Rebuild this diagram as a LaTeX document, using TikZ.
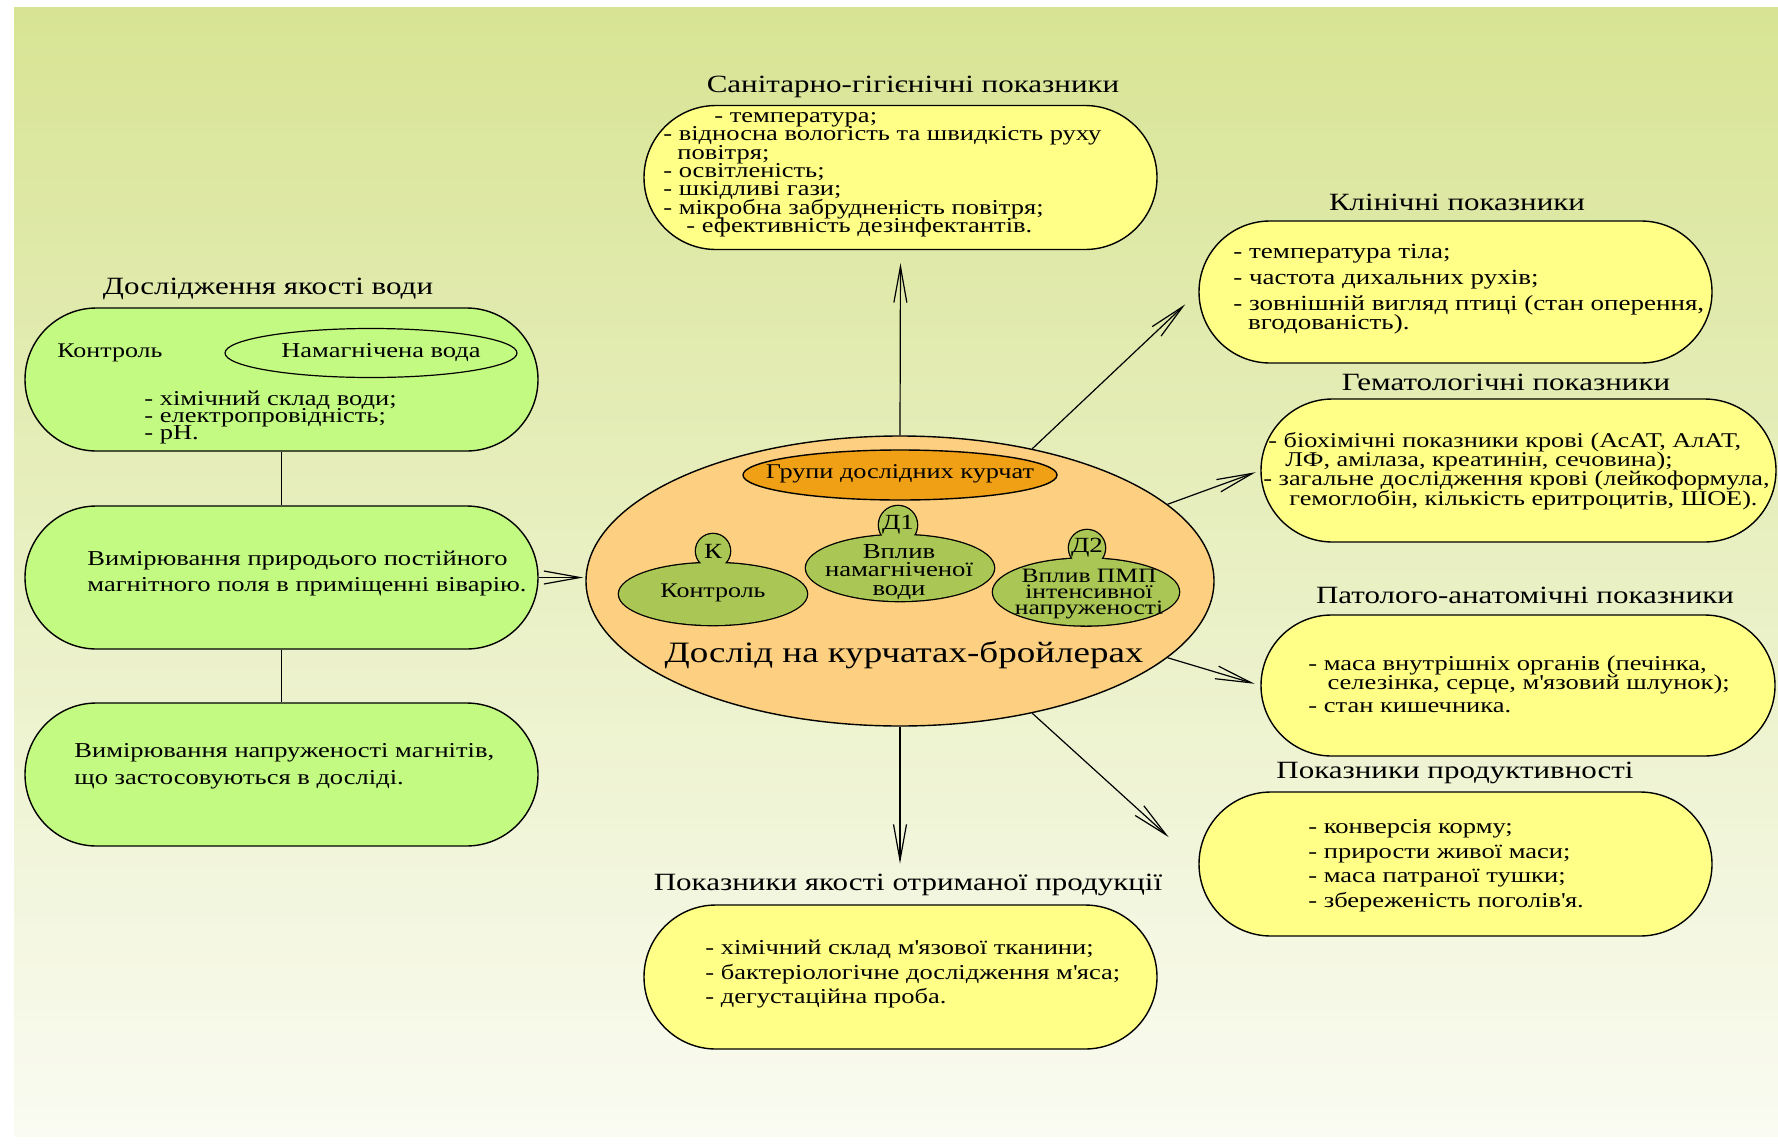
\documentclass[tikz,border=0pt]{standalone}
\usepackage{fontspec}
\setmainfont{Liberation Serif}[FakeStretch=1.25]
\usetikzlibrary{shapes.geometric,shapes.misc,arrows.meta}
\definecolor{yel}{RGB}{255,255,136}
\definecolor{grn}{RGB}{195,250,130}
\definecolor{peach}{RGB}{252,208,128}
\definecolor{org}{RGB}{240,160,20}
\definecolor{olive}{RGB}{170,198,84}
\definecolor{bgtop}{RGB}{216,228,148}
\definecolor{bgmid}{RGB}{237,242,202}
\definecolor{bgbot}{RGB}{250,251,242}
\lineskiplimit=-30pt
\begin{document}
\begin{tikzpicture}[x=0.5pt,y=-0.5pt,
  stad/.style={rounded rectangle, draw, line width=0.7pt, fill=yel, minimum width=256.5pt, minimum height=72pt, inner sep=0pt},
  gstad/.style={stad, fill=grn},
  head/.style={inner sep=0pt, font=\fontsize{12.4}{14}\selectfont},
  txt/.style={inner sep=0pt, anchor=north west, align=left},
  gout/.style={draw, line width=1.3pt, fill=olive, inner sep=0pt},
  lbl/.style={inner sep=0pt, align=center, font=\fontsize{10.4}{9.4}\selectfont},
  arr/.style={draw, line width=0.6pt, -{Straight Barb[length=18pt,width=6.5pt]}},
  lnk/.style={draw, line width=0.6pt}
]
\useasboundingbox (0,0) rectangle (1778,1146);
\fill[white] (0,0) rectangle (1778,1146);
\shade[top color=bgtop, middle color=bgmid, bottom color=bgbot] (14,7) rectangle (1778,1136);

% top: sanitary
\node[head] (sant) at (913,87) {Санітарно-гігієнічні показники};
\node[stad] (san) at (900.5,177.5) {};
\node[txt, font=\fontsize{10.6}{9.2}\selectfont] (sanx) at (663,112) {\hspace*{25.5pt}- температура;\\- відносна вологість та швидкість руху\\\hspace*{7pt}повітря;\\- освітленість;\\- шкідливі гази;\\- мікробна забрудненість повітря;\\\hspace*{11.5pt}- ефективність дезінфектантів.};

% clinical
\node[head] (clint) at (1457,202) {Клінічні показники};
\node[stad, minimum height=71pt] (clin) at (1455.5,292) {};
\node[txt, font=\fontsize{10.8}{9.6}\selectfont] (clinx) at (1233,244) {- температура тіла;\\[3.4pt]- частота дихальних рухів;\\[3.4pt]- зовнішній вигляд птиці (стан оперення,\\\hspace*{7.4pt}вгодованість).};

% hematology
\node[head] (hemt) at (1506,382) {Гематологічні показники};
\node[stad, minimum width=257.5pt, minimum height=71.5pt] (hem) at (1518.5,470.5) {};
\node[txt, font=\fontsize{10.5}{9.6}\selectfont] (hemx) at (1263,432) {\hspace*{2.5pt}- біохімічні показники крові (АсАТ, АлАТ,\\\hspace*{11pt}ЛФ, амілаза, креатинін, сечовина);\\- загальне дослідження крові (лейкоформула,\\\hspace*{13pt}гемоглобін, кількість еритроцитів, ШОЕ).};

% pathology
\node[head] (patht) at (1525,595) {Патолого-анатомічні показники};
\node[stad, minimum width=257pt, minimum height=70.5pt] (path) at (1518,685.5) {};
\node[txt, font=\fontsize{10.6}{9.6}\selectfont] (pathx) at (1308,655) {- маса внутрішніх органів (печінка,\\\hspace*{9.6pt}селезінка, серце, м\textquotesingle язовий шлунок);\\[1.9pt]- стан кишечника.};

% productivity
\node[head] (prodt) at (1455,773) {Показники продуктивності};
\node[stad] (prod) at (1455.5,864) {};
\node[txt, font=\fontsize{10.6}{12.3}\selectfont] (prodx) at (1308,819) {- конверсія корму;\\- прирости живої маси;\\- маса патраної тушки;\\- збереженість поголів\textquotesingle я.};

% quality
\node[head] (qualt) at (908,885) {Показники якості отриманої продукції};
\node[stad] (qual) at (900.5,977) {};
\node[txt, font=\fontsize{10.6}{12.2}\selectfont] (qualx) at (705,940) {- хімічний склад м\textquotesingle язової тканини;\\- бактеріологічне дослідження м\textquotesingle яса;\\- дегустаційна проба.};

% left column
\node[head] (watt) at (268,289) {Дослідження якості води};
\node[gstad, minimum height=71.5pt] (wat) at (281.5,379.5) {};
\node[inner sep=0pt, anchor=west, font=\fontsize{10.4}{12}\selectfont] (watk) at (57,353) {Контроль};
\node[ellipse, draw, line width=0.6pt, fill=grn, minimum width=146pt, minimum height=24.5pt, inner sep=0pt] (watm) at (371,353) {};
\node[inner sep=0pt, font=\fontsize{10.6}{12}\selectfont] (watmt) at (381,353) {Намагнічена вода};
\node[txt, font=\fontsize{10.6}{8.3}\selectfont] (watx) at (144,391) {- хімічний склад води;\\- електропровідність;\\- pH.};

\node[gstad, minimum height=71.5pt] (b2) at (281.5,577.5) {};
\node[txt, font=\fontsize{10.6}{13}\selectfont] (b2x) at (87,551) {Вимірювання природього постійного\\магнітного поля в приміщенні віварію.};

\node[gstad, minimum height=71.5pt] (b3) at (281.5,774.5) {};
\node[txt, font=\fontsize{10.6}{13.6}\selectfont] (b3x) at (74,743) {Вимірювання напруженості магнітів,\\що застосовуються в досліді.};

\draw[lnk] (wat.south) -- (b2.north);
\draw[lnk] (b2.south) -- (b3.north);

% centre
\node[ellipse, draw, line width=0.7pt, fill=peach, minimum width=314pt, minimum height=145pt, inner sep=0pt] (cen) at (900,581) {};
\node[ellipse, draw, line width=0.7pt, fill=org, minimum width=157pt, minimum height=25pt, inner sep=0pt] (grp) at (900,475) {};
\node[inner sep=0pt, font=\fontsize{10.5}{12}\selectfont] (grpt) at (900,474) {Групи дослідних курчат};

% group K
\node[gout, ellipse, minimum width=94pt, minimum height=31pt] (gk) at (713,594) {};
\node[gout, circle, minimum size=17pt] (gkc) at (713,551) {};
\fill[olive] (gk.center) ellipse [x radius=47pt, y radius=15.5pt];
\fill[olive] (gkc.center) circle [radius=8.5pt];
% group D1
\node[gout, ellipse, minimum width=94pt, minimum height=33pt] (gd1) at (900,568) {};
\node[gout, circle, minimum size=19pt] (gd1c) at (898,525) {};
\fill[olive] (gd1.center) ellipse [x radius=47pt, y radius=16.5pt];
\fill[olive] (gd1c.center) circle [radius=9.5pt];
% group D2
\node[gout, ellipse, minimum width=93pt, minimum height=33.5pt] (gd2) at (1086,592) {};
\node[gout, circle, minimum size=18pt] (gd2c) at (1087,548) {};
\fill[olive] (gd2.center) ellipse [x radius=46.5pt, y radius=16.75pt];
\fill[olive] (gd2c.center) circle [radius=9pt];

\node[lbl, font=\fontsize{10.8}{10}\selectfont] (gkl) at (gkc.center) {К};
\node[lbl, font=\fontsize{10.8}{10}\selectfont] (gd1l) at (gd1c.center) {Д1};
\node[lbl, font=\fontsize{10.8}{10}\selectfont] (gd2l) at (gd2c.center) {Д2};
\node[lbl] (gkt) at (713,593) {Контроль};
\node[lbl, font=\fontsize{10.7}{9.4}\selectfont] (gd1t) at (899,572) {Вплив\\намагніченої\\води};
\node[lbl, font=\fontsize{10.2}{8}\selectfont] (gd2t) at (1089,594) {Вплив ПМП\\інтенсивної\\напруженості};

\node[inner sep=0pt, font=\fontsize{14.8}{16}\selectfont] (cent) at (904,655) {Дослід на курчатах-бройлерах};

% connectors
\draw[arr, shorten >=6.5pt] (cen.north) -- (san.south);
\draw[arr, shorten >=9pt] (cen.45) -- (clin.west);
\draw[arr, shorten >=2.5pt] (cen.16) -- (hem.west);
\draw[arr, shorten >=3pt] (cen.-16) -- (path.west);
\draw[arr, shorten >=20pt] (cen.-45) -- (prod.west);
\draw[arr, shorten >=5pt] (cen.south) -- (cen.south |- qualt.north);
\draw[arr, shorten >=1pt] (b2.east) -- (b2.east -| cen.west);
\end{tikzpicture}
\end{document}
